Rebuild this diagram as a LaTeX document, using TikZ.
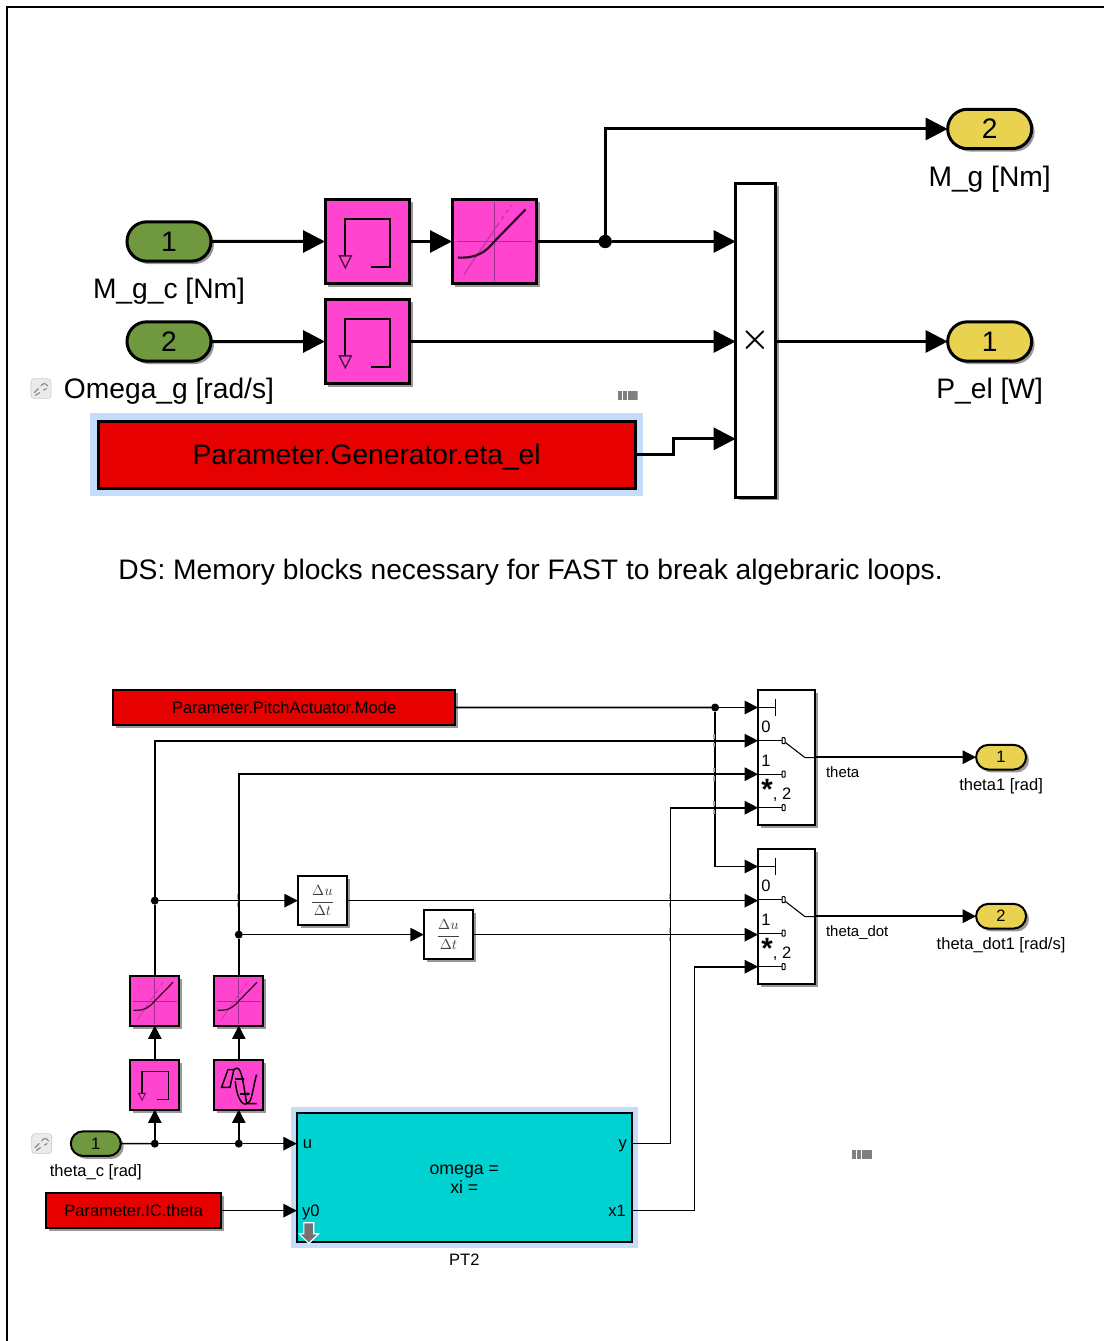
\documentclass[tikz,border=0pt]{standalone}
\usepackage{amsmath,amssymb}
\usepackage{fontspec}
\setmainfont{Liberation Sans}
\usepackage{tikz}
\usetikzlibrary{arrows.meta,positioning,shadows,shapes.misc,shapes.arrows}
\definecolor{ingreen}{HTML}{6F983F}
\definecolor{outyellow}{HTML}{E8D24F}
\definecolor{blockmagenta}{HTML}{FF44D0}
\definecolor{constred}{HTML}{E60000}
\definecolor{subcyan}{HTML}{00D2D2}
\definecolor{halo}{HTML}{C5DCFB}
\definecolor{icondark}{HTML}{A0308F}
\newcommand{\largetext}{\fontsize{21.15}{25}\selectfont}
\newcommand{\smalltext}{\fontsize{12.4}{14.25}\selectfont}
\tikzset{
  node distance=0mm,
  >=Triangle,
  every node/.style={outer sep=0mm,inner sep=0mm,font=\smalltext}
}
\tikzset{blockshadow/.style={drop shadow={shadow xshift=2.2pt,shadow yshift=-2.2pt,opacity=.4,fill=black}}}
\tikzset{block/.style={
    draw,
    blockshadow,
    line width=1.5pt,
    minimum width=#1,
    minimum height=#1
  },
  block/.default=37pt}
\tikzset{bigblock/.style={block=63.5pt,line width=2.25pt}}
\tikzset{port/.style={rounded rectangle,draw,blockshadow,line width=1.5pt,minimum width=37.5pt,minimum height=18.5pt}}
\tikzset{bigport/.style={port,line width=2.25pt,minimum width=63pt,minimum height=29.5pt,font=\largetext}}
\tikzset{sig/.style={line width=1.2pt,-{Triangle[length=10pt,width=10pt]}}}
\tikzset{bigsig/.style={line width=2.25pt,-{Triangle[length=16.5pt,width=16.5pt]}}}
\tikzset{wire/.style={line width=1.2pt}}
\tikzset{bigwire/.style={line width=2.25pt}}
\tikzset{dot/.style={circle,fill=black,minimum size=#1},dot/.default=6pt}
\tikzset{halobox/.style={preaction={draw=halo,line width=#1}},halobox/.default=12pt}
\tikzset{memicon/.style={fill=blockmagenta,path picture={
    \draw [shift={(path picture bounding box.center)},x=#1,y=-#1,line width=.022*#1]
    (.04,.3) -- (.27,.3) -- (.27,-.27) -- (-.26,-.27) -- (-.26,.17);
    \draw [shift={(path picture bounding box.center)},x=#1,y=-#1,line width=.016*#1,black!70!blockmagenta]
    (-.33,.17) -- (-.19,.17) -- (-.26,.31) -- cycle;
  }}}
\tikzset{saticon/.style={fill=blockmagenta,path picture={
    \draw [shift={(path picture bounding box.center)},x=#1,y=-#1,line width=.016*#1,icondark]
    (0,-.47) -- (0,.47) (-.44,0) -- (.44,0);
    \draw [shift={(path picture bounding box.center)},x=#1,y=-#1,line width=.016*#1,icondark!60!blockmagenta]
    (-.36,.39) -- (.03,-.18);
    \draw [shift={(path picture bounding box.center)},x=#1,y=-#1,line width=.016*#1,icondark!60!blockmagenta,dashed]
    (.03,-.18) -- (.2,-.43);
    \draw [shift={(path picture bounding box.center)},x=#1,y=-#1,line width=.026*#1,black!80!blockmagenta]
    (-.43,.19) .. controls (-.2,.2) and (-.1,.12) .. (0,0) -- (.37,-.38);
  }}}
\tikzset{delayicon/.style={fill=blockmagenta,path picture={
    \draw [shift={(path picture bounding box.center)},x=#1,y=-#1,line width=.03*#1]
    (-.35,.05) -- (-.22,-.31) -- (-.1,-.31) -- (-.18,.05) -- cycle
    (-.1,-.31) .. controls (.05,-.45) and (.08,-.1) .. (.16,.38) -- (.36,.38)
    (-.07,-.08) .. controls (-.04,.3) and (.1,.5) .. (.23,.32) .. controls (.28,.2) and (.3,0) .. (.36,-.21);
    \draw [shift={(path picture bounding box.center)},x=#1,y=-#1,line width=.03*#1,-{Triangle[length=2pt,width=2.5pt]}]
    (-.08,-.12) -- (.12,-.12);
    \draw [shift={(path picture bounding box.center)},x=#1,y=-#1,line width=.03*#1,-{Triangle[length=2pt,width=2.5pt]}]
    (.03,.18) -- (.23,.18);
  }}}
\tikzset{linkicon/.style={fill=black!8,draw=black!20,rounded corners=2.5pt,line width=.5pt,minimum size=15pt,path picture={
    \draw [shift={(path picture bounding box.center)},black!45,line width=.9pt,line cap=round]
    (-5pt,-3pt) -- (-2pt,0pt) (0pt,2pt) -- (2.5pt,5pt) -- (5pt,2pt) (-4pt,-5pt) -- (-1pt,-3pt) (2pt,-1pt) -- (4pt,0pt);
  }}}
\tikzset{pips/.style={minimum width=15pt,minimum height=6.75pt,path picture={
    \fill [black!50] (path picture bounding box.south west) rectangle ([xshift=3pt] path picture bounding box.north west);
    \fill [black!50] ([xshift=3.75pt] path picture bounding box.south west) rectangle ([xshift=6.75pt] path picture bounding box.north west);
    \fill [black!50] ([xshift=7.5pt] path picture bounding box.south west) rectangle (path picture bounding box.north east);
  }}}
\newcommand{\switchports}[1]{
  \begin{scope}[shift={(#1.north west)}]
    \coordinate (#1_in1) at (0,17.8);
    \coordinate (#1_in2) at (0,51);
    \coordinate (#1_in3) at (0,84.5);
    \coordinate (#1_in4) at (0,118);
    \draw [line width=.8pt] (0,17.8) -- (17,17.8) (17,9) -- (17,26.5);
    \draw [line width=.8pt] (0,51) -- (25,51) (0,84.5) -- (25,84.5) (0,118) -- (25,118);
    \draw [line width=.8pt] (25,51) -- (47,68) -- (56.7,68);
    \foreach \y in {51,84.5,118} {
      \draw [line width=.8pt,fill=white,rounded corners=.5pt] (24,\y-3) rectangle (27,\y+3);
    }
    \node (#1_zero) at (8,37) {0};
    \node (#1_one) at (8,71) {1};
    \node (#1_star) at (9,100) {\fontsize{22}{22}\selectfont\bfseries *};
    \node (#1_two) at (24,105) {, 2};
  \end{scope}
}
\newcommand{\crossmark}[1]{
  \fill [black!35] ([xshift=-1.2pt,yshift=1.5pt] #1) rectangle ([xshift=-.3pt,yshift=5pt] #1);
  \fill [black!35] ([xshift=-1.2pt,yshift=-1.5pt] #1) rectangle ([xshift=-.3pt,yshift=-5pt] #1);
}

\begin{document}
\begin{tikzpicture}[x=.75pt,y=-.75pt]
  \useasboundingbox (0,0) rectangle (1104,1341);
  \coordinate (Frame_bl) at (7,1341);
  \coordinate (Frame_tr) at (1104,7);
  \draw [line width=1.5pt] (Frame_bl) |- (Frame_tr);

  \node (In_M) [bigport,fill=ingreen] at (169,241.5) {1};
  \node (In_M_label) [below=13pt of In_M,font=\largetext] {M\_g\_c [Nm]};
  \node (Mem_M) [bigblock,memicon=63.5pt,right=85.5pt of In_M] {};
  \node (Sat_M) [bigblock,saticon=63.5pt,right=31.75pt of Mem_M] {};
  \node (Mem_W) [bigblock,memicon=63.5pt,below=11.5pt of Mem_M] {};
  \node (In_W) [bigport,fill=ingreen,left=85.5pt of Mem_W] {2};
  \node (In_W_label) [below=13pt of In_W,font=\largetext] {Omega\_g [rad/s]};
  \node (Link_top) [linkicon,left=9.75pt of In_W_label,yshift=2.25pt] {};
  \node (Product) [block,line width=2.25pt,minimum width=30pt,minimum height=235.5pt,fill=white,right=244.5pt of Mem_W,yshift=.75pt] {\fontsize{26}{26}\selectfont $\boldsymbol{\times}$};
  \node (Out_P) [bigport,fill=outyellow,right=129pt of Mem_W-|Product.east] {1};
  \node (Out_P_label) [below=13pt of Out_P,font=\largetext] {P\_el [W]};
  \node (Out_M) [bigport,fill=outyellow,above=129.9pt of Out_P] {2};
  \node (Out_M_label) [below=13pt of Out_M,font=\largetext] {M\_g [Nm]};
  \node (Eta) [block,line width=2.25pt,minimum width=402.5pt,minimum height=50.25pt,fill=constred,halobox,below=28pt of Mem_W,xshift=-.5pt,font=\largetext,text depth=0pt] {Parameter.Generator.eta\_el};
  \node (Pips_top) [pips,above left=16.2pt and -1.9pt of Eta.north east] {};
  \node (Note) [below right=53pt and 15pt of Eta.south west,anchor=north west,font=\largetext] {DS: Memory blocks necessary for FAST to break algebraric loops.};
  \coordinate (Product_in3) at ([yshift=-73.75pt] Product.west);

  \draw [bigsig] (In_M) -- (Mem_M);
  \draw [bigsig] (Mem_M) -- (Sat_M);
  \node (Branch_M) [dot=10pt,right=46.4pt of Sat_M] {};
  \draw [bigwire] (Sat_M) -- (Branch_M);
  \draw [bigsig] (Branch_M) -- (Branch_M-|Product.west);
  \draw [bigsig] (Branch_M) |- (Out_M);
  \draw [bigsig] (In_W) -- (Mem_W);
  \draw [bigsig] (Mem_W) -- (Mem_W-|Product.west);
  \draw [bigsig] (Mem_W-|Product.east) -- (Out_P);
  \draw [bigsig] (Eta.east) -- ++(28.5pt,0) |- (Product_in3);

  \node (Pitch) [block,minimum width=257pt,minimum height=26.75pt,fill=constred,below right=151.15pt and 10.85pt of Eta.south west,anchor=north west] {Parameter.PitchActuator.Mode};
  \node (Switch_a) [block,minimum width=42.5pt,minimum height=101.25pt,fill=white,anchor=north west] at ([xshift=226.95pt] Pitch.north east) {};
  \node (Switch_b) [block,minimum width=42.5pt,minimum height=101.25pt,fill=white,below=18pt of Switch_a] {};
  \switchports{Switch_a}
  \switchports{Switch_b}
  \node (Switch_a_name) [below right=7pt and 8.5pt of Switch_a.east,anchor=north west,font=\fontsize{11.2}{13}\selectfont] {theta};
  \node (Switch_b_name) [below right=7pt and 8.5pt of Switch_b.east,anchor=north west,font=\fontsize{11.2}{13}\selectfont] {theta\_dot};
  \node (Out_a) [port,fill=outyellow,right=121pt of Switch_a] {1};
  \node (Out_a_label) [below=6.5pt of Out_a] {theta1 [rad]};
  \node (Out_b) [port,fill=outyellow,right=121pt of Switch_b] {2};
  \node (Out_b_label) [below=6.5pt of Out_b] {theta\_dot1 [rad/s]};

  \node (PT2) [block,minimum width=251.25pt,minimum height=96.75pt,fill=subcyan,halobox=9pt,below right=290.45pt and 138pt of Pitch.south west,anchor=north west] {};
  \node (PT2_text) [align=center,font=\fontsize{13.3}{14.4}\selectfont,yshift=-1.5pt] at (PT2) {omega =\\xi =};
  \node (PT2_name) [below=9pt of PT2] {PT2};
  \coordinate (PT2_u) at ([yshift=-23.25pt] PT2.north west);
  \coordinate (PT2_y0) at ([yshift=-73.5pt] PT2.north west);
  \coordinate (PT2_y) at ([yshift=-23.25pt] PT2.north east);
  \coordinate (PT2_x1) at ([yshift=-73.5pt] PT2.north east);
  \coordinate (Riser_y) at ([xshift=29pt] PT2_y);
  \coordinate (Riser_x1) at ([xshift=47pt] PT2_x1);
  \node (PT2_u_label) [right=4.5pt of PT2_u,yshift=-.75pt] {u};
  \node (PT2_y0_label) [right=4pt of PT2_y0,yshift=-1pt] {y0};
  \node (PT2_y_label) [left=3.75pt of PT2_y,yshift=-1.5pt] {y};
  \node (PT2_x1_label) [left=4.5pt of PT2_x1] {x1};
  \node (PT2_mask) [single arrow,rotate=-90,draw=white,fill=black!55,line width=.9pt,text height=6.5pt,text depth=0pt,text width=1pt,minimum height=15.5pt,single arrow head extend=3.5pt,single arrow tip angle=90] at ([xshift=9pt,yshift=8.25pt] PT2.south west) {};
  \node (Pips_bottom) [pips,above right=13.9pt and 165pt of PT2.east] {};

  \node (In_theta) [port,fill=ingreen,left=132pt of PT2_u] {1};
  \node (In_theta_label) [below=6.5pt of In_theta] {theta\_c [rad]};
  \node (Link_bottom) [linkicon,left=14.25pt of In_theta] {};
  \node (Branch_a) [dot,right=22.5pt of In_theta] {};
  \node (Branch_b) [dot,right=60pt of Branch_a.center] {};
  \node (Mem_theta) [block,memicon=37pt,above=22.5pt of Branch_a] {};
  \node (Delay) [block,delayicon=37pt,above=22.5pt of Branch_b] {};
  \node (Sat_a) [block,saticon=37pt,above=26pt of Mem_theta] {};
  \node (Sat_b) [block,saticon=37pt,above=26pt of Delay] {};
  \node (Branch_d) [dot,above=53.75pt of Sat_a] {};
  \node (Branch_e) [dot,above=28.25pt of Sat_b] {};
  \node (Deriv_a) [block,fill=white,right=107.25pt of Branch_d.center,font=\fontsize{11}{13}\selectfont,text=black!75] {$\displaystyle\frac{\Delta u}{\Delta t}$};
  \node (Deriv_b) [block,fill=white,right=138.75pt of Branch_e.center,font=\fontsize{11}{13}\selectfont,text=black!75] {$\displaystyle\frac{\Delta u}{\Delta t}$};
  \node (IC) [block,minimum width=131.5pt,minimum height=26.5pt,fill=constred,left=56.5pt of PT2_y0] {Parameter.IC.theta};
  \node (Branch_p) [dot,left=29.25pt of Switch_a_in1] {};

  \draw [wire] (In_theta) -- (Branch_a);
  \draw [wire] (Branch_a) -- (Branch_b);
  \draw [sig] (Branch_b) -- (PT2_u);
  \draw [sig] (Branch_a) -- (Mem_theta);
  \draw [sig] (Branch_b) -- (Delay);
  \draw [sig] (Mem_theta) -- (Sat_a);
  \draw [sig] (Delay) -- (Sat_b);
  \draw [sig] (IC) -- (PT2_y0);
  \draw [wire] (Sat_a) -- (Branch_d);
  \draw [wire] (Sat_b) -- (Branch_e);
  \draw [sig] (Branch_d) |- (Switch_a_in2);
  \draw [sig] (Branch_e) |- (Switch_a_in3);
  \draw [sig] (Branch_d) -- (Deriv_a);
  \draw [sig] (Branch_e) -- (Deriv_b);
  \draw [sig] (Deriv_a) -- (Deriv_a-|Switch_b.west);
  \draw [sig] (Deriv_b) -- (Deriv_b-|Switch_b.west);
  \draw [wire] (Pitch) -- (Branch_p);
  \draw [sig] (Branch_p) -- (Switch_a_in1);
  \draw [sig] (Branch_p) |- (Switch_b_in1);
  \draw [wire] (PT2_y) -- (Riser_y);
  \draw [sig] (Riser_y) |- (Switch_a_in4);
  \draw [wire] (PT2_x1) -- (Riser_x1);
  \draw [sig] (Riser_x1) |- (Switch_b_in4);
  \draw [sig] (Switch_a.east) -- (Out_a);
  \draw [sig] (Switch_b.east) -- (Out_b);

  % faint marks where lines cross
  \crossmark{Branch_p|-Switch_a_in2}
  \crossmark{Branch_p|-Switch_a_in3}
  \crossmark{Branch_p|-Switch_a_in4}
  \crossmark{Riser_y|-Deriv_a}
  \crossmark{Riser_y|-Deriv_b}
  \crossmark{Branch_e|-Deriv_a}
\end{tikzpicture}
\end{document}
